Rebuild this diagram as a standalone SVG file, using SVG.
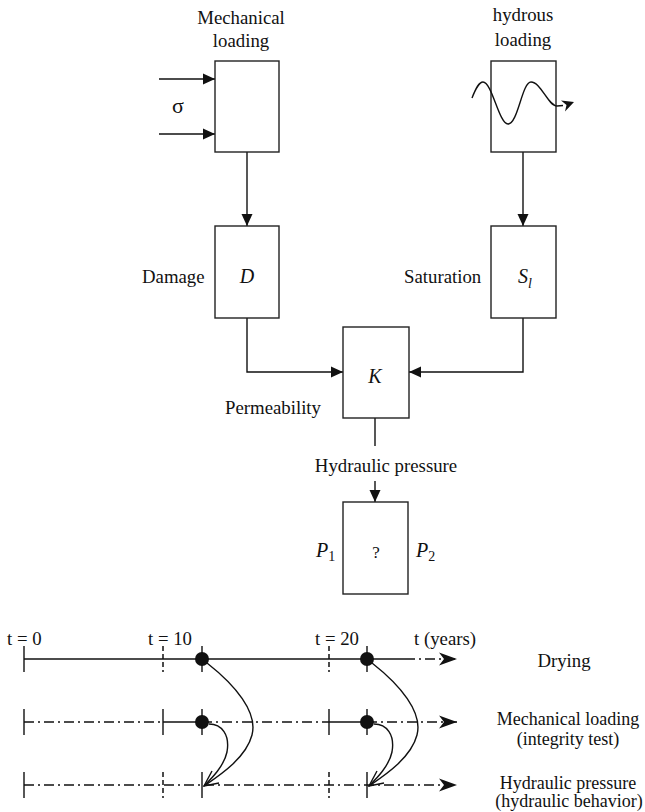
<svg xmlns="http://www.w3.org/2000/svg" width="645" height="812" viewBox="0 0 645 812">
<style>
  text { font-family: "Liberation Serif", "Times New Roman", serif; font-size: 18.8px; fill: #111; }
  .it { font-style: italic; font-size: 20px; }
  .sm { font-size: 18px; }
  .box { fill: #fff; stroke: #222; stroke-width: 1.4; }
  .ln { fill: none; stroke: #111; stroke-width: 1.4; }
  .dd { fill: none; stroke: #111; stroke-width: 1.5; stroke-dasharray: 10 4 2 4; }
  .dt { fill: none; stroke: #111; stroke-width: 1.5; stroke-dasharray: 5 3; }
  .ah { fill: #111; stroke: none; }
  .mid { text-anchor: middle; }
</style>
<defs>
  <marker id="tri" viewBox="0 0 12 12" refX="12" refY="6" markerWidth="12" markerHeight="12" markerUnits="userSpaceOnUse" orient="auto">
    <path d="M0,0.5 L12,6 L0,11.5 Z" fill="#111"/>
  </marker>
  <marker id="barb" viewBox="0 0 18 14" refX="18" refY="7" markerWidth="18" markerHeight="14" markerUnits="userSpaceOnUse" orient="auto">
    <path d="M0,0.5 L18,7 L0,13.5 L5,7 Z" fill="#111"/>
  </marker>
</defs>

<g id="connectors">
  <line class="ln" x1="159" y1="79" x2="215" y2="79" marker-end="url(#tri)"/>
  <line class="ln" x1="159" y1="134" x2="215" y2="134" marker-end="url(#tri)"/>
  <line class="ln" x1="247" y1="152" x2="247" y2="226" marker-end="url(#tri)"/>
  <line class="ln" x1="523" y1="152" x2="523" y2="226" marker-end="url(#tri)"/>
  <polyline class="ln" points="247,318 247,372 343,372" marker-end="url(#tri)"/>
  <polyline class="ln" points="523,318 523,372 409,372" marker-end="url(#tri)"/>
  <line class="ln" x1="375" y1="418" x2="375" y2="446"/>
  <line class="ln" x1="375" y1="481" x2="375" y2="502" marker-end="url(#tri)"/>
</g>

<g id="mechanical-loading">
  <text class="mid" x="241" y="24">Mechanical</text>
  <text class="mid" x="241" y="47">loading</text>
  <rect class="box" x="215" y="61" width="64" height="91"/>
  <text x="178" y="113" class="mid" style="font-size:22px">σ</text>
</g>

<g id="hydrous-loading">
  <text class="mid" x="523" y="21">hydrous</text>
  <text class="mid" x="523" y="46">loading</text>
  <rect class="box" x="491" y="61" width="65" height="91"/>
  <path class="ln" d="M472,98 C476,88 479,82 483,82 C492,82 499,124 508,124 C518,124 522,82 531,82 C541,82 548,106 557,106 L563,105.5"/>
  <polygon class="ah" points="574,102 561,100.5 566.5,105 565,111.5"/>
</g>

<g id="damage">
  <rect class="box" x="215" y="226" width="64" height="92"/>
  <text class="it mid" x="247" y="283">D</text>
  <text x="142" y="283">Damage</text>
</g>

<g id="saturation">
  <rect class="box" x="491" y="226" width="65" height="92"/>
  <text class="it" x="518" y="283">S<tspan style="font-size:14px" dy="5">l</tspan></text>
  <text x="404" y="283">Saturation</text>
</g>

<g id="permeability">
  <rect class="box" x="343" y="327" width="66" height="91"/>
  <text class="it mid" x="375" y="383">K</text>
  <text x="225" y="414">Permeability</text>
</g>

<g id="hydraulic-pressure">
  <text class="mid" x="386" y="472">Hydraulic pressure</text>
  <rect class="box" x="343" y="502" width="65" height="92"/>
  <text class="mid" x="376" y="558" style="font-size:17px">?</text>
  <text class="it" x="316" y="557">P<tspan style="font-size:14px;font-style:normal" dy="4">1</tspan></text>
  <text class="it" x="416" y="557">P<tspan style="font-size:14px;font-style:normal" dy="4">2</tspan></text>
</g>

<g id="timeline">
  <text x="7" y="645">t = 0</text>
  <text x="148" y="645">t = 10</text>
  <text x="315" y="645">t = 20</text>
  <text x="414" y="645">t (years)</text>

  <!-- row 1: drying -->
  <line class="ln" x1="24" y1="659" x2="405" y2="659" style="stroke-width:1.5"/>
  <line class="dd" x1="405" y1="659" x2="457" y2="659" marker-end="url(#barb)"/>
  <line class="ln" x1="24" y1="646" x2="24" y2="672"/>
  <line class="dt" x1="163" y1="646" x2="163" y2="672"/>
  <line class="ln" x1="202" y1="646" x2="202" y2="672"/>
  <line class="dt" x1="329" y1="646" x2="329" y2="672"/>
  <line class="ln" x1="367" y1="646" x2="367" y2="672"/>

  <!-- row 2: mechanical loading -->
  <line class="dd" x1="24" y1="722" x2="163" y2="722"/>
  <line class="ln" x1="163" y1="722" x2="202" y2="722" style="stroke-width:1.5"/>
  <line class="dd" x1="202" y1="722" x2="329" y2="722"/>
  <line class="ln" x1="329" y1="722" x2="367" y2="722" style="stroke-width:1.5"/>
  <line class="dd" x1="367" y1="722" x2="457" y2="722" marker-end="url(#barb)"/>
  <line class="ln" x1="24" y1="709" x2="24" y2="735"/>
  <line class="ln" x1="163" y1="709" x2="163" y2="735"/>
  <line class="ln" x1="202" y1="709" x2="202" y2="735"/>
  <line class="ln" x1="329" y1="709" x2="329" y2="735"/>
  <line class="ln" x1="367" y1="709" x2="367" y2="735"/>

  <!-- row 3: hydraulic pressure -->
  <line class="dd" x1="24" y1="785" x2="457" y2="785" marker-end="url(#barb)"/>
  <line class="ln" x1="24" y1="772" x2="24" y2="798"/>
  <line class="dt" x1="163" y1="772" x2="163" y2="798"/>
  <line class="ln" x1="202" y1="772" x2="202" y2="798"/>
  <line class="dt" x1="329" y1="772" x2="329" y2="798"/>
  <line class="ln" x1="367" y1="772" x2="367" y2="798"/>

  <g id="links-t10">
    <circle cx="202" cy="659" r="7" fill="#111"/>
    <circle cx="202" cy="722" r="7" fill="#111"/>
    <path class="ln" d="M207,663 C235,685 258,712 252,735 C246,758 220,775 204,786"/>
    <path class="ln" d="M209,724 C222,724 230,735 227,752 C224,766 212,778 204,786"/>
    <polyline class="ln" points="212,771 204,786 219,783"/>
  </g>
  <use href="#links-t10" transform="translate(165,0)"/>

  <text class="mid" x="564" y="667">Drying</text>
  <text class="mid sm" x="568" y="725">Mechanical loading</text>
  <text class="mid sm" x="568" y="745">(integrity test)</text>
  <text class="mid sm" x="568" y="789">Hydraulic pressure</text>
  <text class="mid sm" x="569" y="807">(hydraulic behavior)</text>
</g>
</svg>
